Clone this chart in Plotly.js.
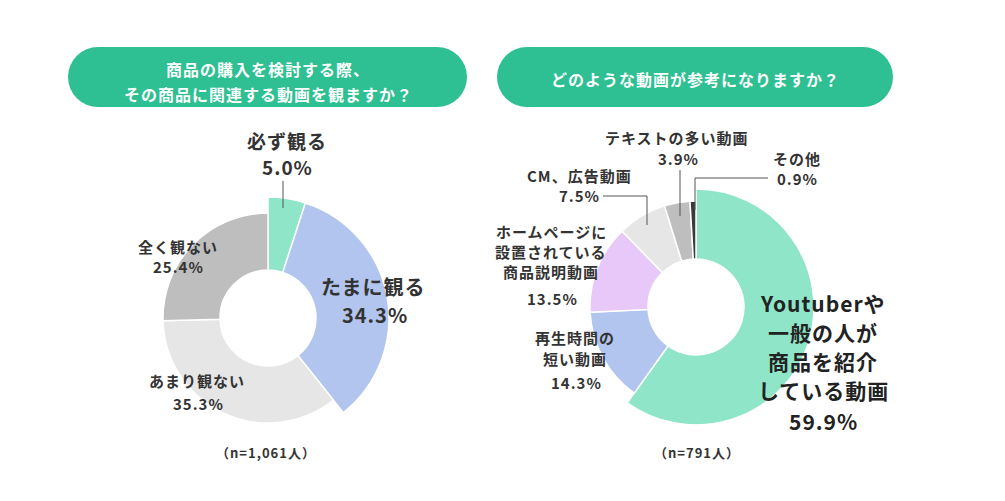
<!DOCTYPE html>
<html>
<head>
<meta charset="utf-8">
<script src="https://cdn.plot.ly/plotly-3.0.1.min.js"></script>
<style>
html,body{margin:0;padding:0;background:#fff;}
#chart{width:1005px;height:501px;}
.annotation-text{letter-spacing:1px;}
</style>
</head>
<body>
<div id="chart"></div>
<script>
// ---- data ----
const leftTitle = ['商品の購入を検討する際、', 'その商品に関連する動画を観ますか？'];
const leftLabels = ['必ず観る', 'たまに観る', 'あまり観ない', '全く観ない'];
const leftValues = [5.0, 34.3, 35.3, 25.4];
const leftN = '（n=1,061人）';

const rightTitle = ['どのような動画が参考になりますか？'];
const rightLabels = [
  ['Youtuberや', '一般の人が', '商品を紹介', 'している動画'],
  ['再生時間の', '短い動画'],
  ['ホームページに', '設置されている', '商品説明動画'],
  ['CM、広告動画'],
  ['テキストの多い動画'],
  ['その他']
];
const rightValues = [59.9, 14.3, 13.5, 7.5, 3.9, 0.9];
const rightN = '（n=791人）';

// ---- styles ----
const leftColors = ['#8ee5c8', '#b2c5ef', '#e6e6e6', '#bebebe'];
const leftOuter = [121, 121, 105, 105];
const rightColors = ['#8ee5c8', '#b2c5ef', '#e8c8f8', '#e6e6e6', '#bebebe', '#3a3a3a'];
const rightOuter = [118, 106, 106, 106, 106, 106];
const HOLE = 48;
const W = 1005, H = 501;
const FONT = 'Noto Sans CJK JP, Noto Sans, sans-serif';
const TXT = '#333333';

function px(x) { return x / W; }
function py(y) { return 1 - y / H; }

function ringTrace(values, colors, outer, subplot) {
  let cum = 0;
  const theta = [], width = [], r = [], base = [];
  values.forEach((v, i) => {
    const w = v * 3.6;
    theta.push(cum + w / 2);
    width.push(w);
    r.push(outer[i] - HOLE);
    base.push(HOLE);
    cum += w;
  });
  return {
    type: 'barpolar', subplot: subplot,
    theta: theta, width: width, r: r, base: base,
    marker: {color: colors, line: {color: '#ffffff', width: 1.5}},
    hoverinfo: 'skip', showlegend: false
  };
}

const data = [
  ringTrace(leftValues, leftColors, leftOuter, 'polar'),
  ringTrace(rightValues, rightColors, rightOuter, 'polar2')
];

function polarLayout(cx, cy) {
  const R = 125;
  return {
    domain: {x: [px(cx - R), px(cx + R)], y: [py(cy + R), py(cy - R)]},
    bgcolor: 'rgba(0,0,0,0)',
    radialaxis: {range: [0, R], visible: false, showgrid: false},
    angularaxis: {rotation: 90, direction: 'clockwise', visible: false, showgrid: false}
  };
}

const annotations = [];
function addText(text, x, y, size, color, weight) {
  annotations.push({
    xref: 'paper', yref: 'paper', x: px(x), y: py(y),
    xanchor: 'center', yanchor: 'middle', showarrow: false,
    text: text,
    font: {family: FONT, size: size, color: color || TXT, weight: weight || 700}
  });
}
function pct(v) { return v.toFixed(1) + '%'; }

// titles
addText(leftTitle[0], 268, 69, 16, '#ffffff');
addText(leftTitle[1], 268, 94, 16, '#ffffff');
addText(rightTitle[0], 695, 79, 16, '#ffffff');

// left labels
addText(leftLabels[0], 287, 140, 19);
addText(pct(leftValues[0]), 287, 166, 19);
addText(leftLabels[1], 373, 286, 20);
addText(pct(leftValues[1]), 375, 314, 20);
addText(leftLabels[2], 197, 380, 15);
addText(pct(leftValues[2]), 198, 403, 15);
addText(leftLabels[3], 178, 246, 15);
addText(pct(leftValues[3]), 178, 266, 15);
addText(leftN, 266, 452, 13);

// right labels
const ylines0 = [303, 332, 361, 390];
rightLabels[0].forEach((t, i) => addText(t, 823, ylines0[i], 21, '#222222'));
addText(pct(rightValues[0]), 823, 421, 21, '#222222');
const ylines1 = [337, 358];
rightLabels[1].forEach((t, i) => addText(t, 575, ylines1[i], 15));
addText(pct(rightValues[1]), 576, 382, 15);
const ylines2 = [231.5, 251.5, 271.5];
rightLabels[2].forEach((t, i) => addText(t, 551, ylines2[i], 15));
addText(pct(rightValues[2]), 552, 298, 15);
addText(rightLabels[3][0], 579, 175, 15);
addText(pct(rightValues[3]), 579, 195, 15);
addText(rightLabels[4][0], 677, 137, 15);
addText(pct(rightValues[4]), 678, 158, 15);
addText(rightLabels[5][0], 797, 158, 15);
addText(pct(rightValues[5]), 797, 178, 15);
addText(rightN, 697, 452, 13);

// shapes
const shapes = [];
const PILL = '#2ebf92';
function pill(x0, x1, y0, y1) {
  const rr = (y1 - y0) / 2;
  shapes.push({type: 'rect', xref: 'paper', yref: 'paper', x0: px(x0 + rr), x1: px(x1 - rr), y0: py(y1), y1: py(y0), fillcolor: PILL, line: {width: 0}, layer: 'below'});
  shapes.push({type: 'circle', xref: 'paper', yref: 'paper', x0: px(x0), x1: px(x0 + 2 * rr), y0: py(y1), y1: py(y0), fillcolor: PILL, line: {width: 0}, layer: 'below'});
  shapes.push({type: 'circle', xref: 'paper', yref: 'paper', x0: px(x1 - 2 * rr), x1: px(x1), y0: py(y1), y1: py(y0), fillcolor: PILL, line: {width: 0}, layer: 'below'});
}
pill(68, 467, 47, 107);
pill(497, 893, 47, 107);

function seg(x0, y0, x1, y1) {
  shapes.push({type: 'line', xref: 'paper', yref: 'paper', x0: px(x0), y0: py(y0), x1: px(x1), y1: py(y1), line: {color: '#555555', width: 1}, layer: 'above'});
}
seg(283, 181, 283, 208);
seg(680, 170, 680, 216);
seg(695, 178, 768, 178);
seg(695, 178, 695, 210);
seg(603, 196, 647, 196);
seg(647, 196, 647, 225);

const layout = {
  width: W, height: H,
  margin: {l: 0, r: 0, t: 0, b: 0, pad: 0},
  paper_bgcolor: '#ffffff', plot_bgcolor: '#ffffff',
  showlegend: false,
  polar: polarLayout(268, 318),
  polar2: polarLayout(696, 307),
  annotations: annotations,
  shapes: shapes
};

Plotly.newPlot('chart', data, layout, {displayModeBar: false, staticPlot: true});
</script>
</body>
</html>
